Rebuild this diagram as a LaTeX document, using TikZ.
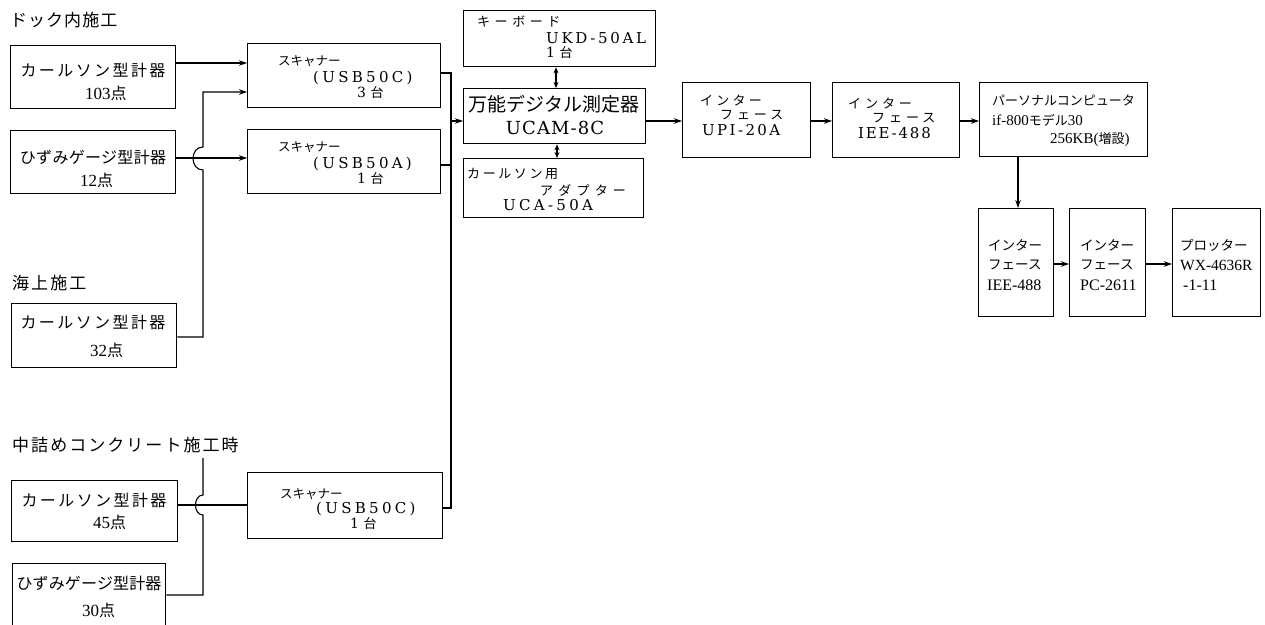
\documentclass[tikz,border=0pt]{standalone}
\usepackage{fontspec}
\setmainfont{Liberation Serif}
\newfontfamily\jp{Noto Sans CJK JP}
\newfontfamily\lat{DejaVu Serif}
\usetikzlibrary{arrows.meta}
\newcommand\jtxt[3]{{\jp\fontsize{#1}{#1}\selectfont\addfontfeature{LetterSpace=#2}#3}}
\newcommand\rtxt[3]{{\rmfamily\fontsize{#1}{#1}\selectfont\addfontfeature{LetterSpace=#2}#3}}
\newcommand\ltxt[3]{{\lat\fontsize{#1}{#1}\selectfont\addfontfeature{LetterSpace=#2}#3}}
\newcommand\scanlbl[1]{\ltxt{15}{22}{(#1)}}
\tikzset{
 box/.style={draw, line width=1.3pt, inner sep=0pt, anchor=north west},
 lb/.style={inner sep=0pt, anchor=west},
 lc/.style={inner sep=0pt, anchor=center},
 ln/.style={line width=1.1pt},
 arr/.style={ln, -{Stealth[length=8pt,width=5.5pt]}},
 darr/.style={ln, {Stealth[length=6pt,width=5pt]}-{Stealth[length=6pt,width=5pt]}},
}
\begin{document}
\begin{tikzpicture}[x=1pt,y=-1pt]
\useasboundingbox (0,0) rectangle (1265,624);
\clip (0,0) rectangle (1265,624);

% group titles
\node[lb] (t1) at (10,20) {\jtxt{17}{6}{ドック内施工}};
\node[lb] (t2) at (12,283) {\jtxt{17}{12}{海上施工}};
\node[lb] (t3) at (12,445) {\jtxt{17}{12}{中詰めコンクリート施工時}};

% gauge boxes
\node[box, minimum width=165pt, minimum height=63pt] (a1) at (10,45) {};
\node[lc] (a1t) at (93,70) {\jtxt{16}{15}{カールソン型計器}};
\node[lb] (a1n) at (85,93) {\rtxt{17}{0}{103}\jtxt{16}{0}{点}};

\node[box, minimum width=165pt, minimum height=63pt] (a2) at (10,130) {};
\node[lc] (a2t) at (93,157) {\jtxt{16}{2}{ひずみゲージ型計器}};
\node[lb] (a2n) at (80,180) {\rtxt{17}{0}{12}\jtxt{16}{0}{点}};

\node[box, minimum width=165pt, minimum height=64pt] (sea) at (11,303) {};
\node[lc] (seat) at (93,322) {\jtxt{16}{15}{カールソン型計器}};
\node[lb] (sean) at (90,350) {\rtxt{17}{0}{32}\jtxt{16}{0}{点}};

\node[box, minimum width=166pt, minimum height=61pt] (b1) at (11,480) {};
\node[lc] (b1t) at (94,500) {\jtxt{16}{15}{カールソン型計器}};
\node[lb] (b1n) at (93,522) {\rtxt{17}{0}{45}\jtxt{16}{0}{点}};

\node[box, minimum width=153pt, minimum height=70pt] (b2) at (12,563) {};
\node[lc] (b2t) at (89,583) {\jtxt{16}{1}{ひずみゲージ型計器}};
\node[lb] (b2n) at (82,610) {\rtxt{17}{0}{30}\jtxt{16}{0}{点}};

% scanners
\node[box, minimum width=193pt, minimum height=64pt] (s1) at (247,43) {};
\node[lb] (s1a) at (278,61) {\jtxt{12.5}{0}{スキャナー}};
\node[lb] (s1b) at (313,78) {\scanlbl{USB50C}};
\node[lb] (s1c) at (357,93) {\ltxt{14}{0}{3 }\jtxt{13}{0}{台}};

\node[box, minimum width=193pt, minimum height=64pt] (s2) at (247,129) {};
\node[lb] (s2a) at (278,147) {\jtxt{12.5}{0}{スキャナー}};
\node[lb] (s2b) at (313,164) {\scanlbl{USB50A}};
\node[lb] (s2c) at (357,179) {\ltxt{14}{0}{1 }\jtxt{13}{0}{台}};

\node[box, minimum width=195pt, minimum height=66pt] (s3) at (247,472) {};
\node[lb] (s3a) at (280,494) {\jtxt{12.5}{0}{スキャナー}};
\node[lb] (s3b) at (316,509) {\scanlbl{USB50C}};
\node[lb] (s3c) at (350,524) {\ltxt{14}{0}{1 }\jtxt{13}{0}{台}};

% measuring unit column
\node[box, minimum width=192pt, minimum height=56pt] (kb) at (463,10) {};
\node[lb] (kba) at (477,21) {\jtxt{13}{35}{キーボード}};
\node[lb] (kbb) at (546,38) {\ltxt{15}{18}{UKD-50AL}};
\node[lb] (kbc) at (546,53) {\ltxt{14}{0}{1 }\jtxt{13}{0}{台}};

\node[box, minimum width=182pt, minimum height=55pt] (ucam) at (463,88) {};
\node[lc] (ucama) at (554,104) {\jtxt{19}{0}{万能デジタル測定器}};
\node[lc] (ucamb) at (555,128) {\ltxt{18}{6}{UCAM-8C}};

\node[box, minimum width=180pt, minimum height=59pt] (ad) at (463,158) {};
\node[lb] (ada) at (467,174) {\jtxt{13}{20}{カールソン用}};
\node[lb] (adb) at (540,190) {\jtxt{13}{40}{アダプター}};
\node[lb] (adc) at (503,205) {\ltxt{15}{22}{UCA-50A}};

% interfaces and computer
\node[box, minimum width=128pt, minimum height=75pt] (upi) at (682,82) {};
\node[lb] (upia) at (700,100) {\jtxt{13}{25}{インター}};
\node[lb] (upib) at (720,115) {\jtxt{13}{30}{フェース}};
\node[lb] (upic) at (702,130) {\ltxt{15}{16}{UPI-20A}};

\node[box, minimum width=127pt, minimum height=75pt] (iee) at (832,82) {};
\node[lb] (ieea) at (848,103) {\jtxt{13}{30}{インター}};
\node[lb] (ieeb) at (872,118) {\jtxt{13}{30}{フェース}};
\node[lb] (ieec) at (858,133) {\ltxt{15}{12}{IEE-488}};

\node[box, minimum width=168pt, minimum height=74pt] (pc) at (979,82) {};
\node[lb] (pca) at (992,100) {\jtxt{13}{0}{パーソナルコンピュータ}};
\node[lb] (pcb) at (992,120) {\rtxt{15}{0}{if-800}\jtxt{13}{0}{モデル}\rtxt{15}{0}{30}};
\node[lb] (pcc) at (1050,140) {\rtxt{15}{0}{256KB(}\jtxt{13}{0}{増設}\rtxt{15}{0}{)}};

\node[box, minimum width=75pt, minimum height=108pt] (ie2) at (978,208) {};
\node[lb] (ie2a) at (988,245) {\jtxt{13.5}{0}{インター}};
\node[lb] (ie2b) at (988,265) {\jtxt{13.5}{0}{フェース}};
\node[lb] (ie2c) at (987,285) {\rtxt{16}{0}{IEE-488}};

\node[box, minimum width=76pt, minimum height=108pt] (pc26) at (1069,208) {};
\node[lb] (pc26a) at (1080,245) {\jtxt{13.5}{0}{インター}};
\node[lb] (pc26b) at (1080,265) {\jtxt{13.5}{0}{フェース}};
\node[lb] (pc26c) at (1080,285) {\rtxt{16}{0}{PC-2611}};

\node[box, minimum width=88pt, minimum height=108pt] (plt) at (1172,208) {};
\node[lb] (plta) at (1180,245) {\jtxt{13.5}{0}{プロッター}};
\node[lb] (pltb) at (1180,265) {\rtxt{15.5}{0}{WX-4636R}};
\node[lb] (pltc) at (1183,285) {\rtxt{16}{0}{-1-11}};

% connectors, left part
\draw[arr] (a1.east |- 0,63) -- (s1.west |- 0,63);
\draw[arr] (a2.east |- 0,158) -- (s2.west |- 0,158);
\coordinate (h1a) at (203,170);
\coordinate (h1b) at (203,147);
\draw[arr] (sea.east |- 0,337) -| (h1a) .. controls (189.7,170) and (189.7,147) .. (h1b) |- (s1.west |- 0,92);
\draw[ln] (b1.east |- 0,505) -- (s3.west |- 0,505);
\coordinate (h2a) at (203,515);
\coordinate (h2b) at (203,495);
\coordinate (fend) at (203,458);
\draw[ln] (b2.east |- 0,595) -| (h2a) .. controls (193,515) and (193,495) .. (h2b) -- (fend);

% bus
\coordinate (bt) at (451,73);
\coordinate (bb) at (451,508);
\draw[ln] (s1.east |- bt) -- (bt) -- (bb) -- (s3.east |- bb);
\draw[ln] (s2.east |- 0,165) -- (bt |- 0,165);
\draw[arr] (bt |- 0,121) -- (ucam.west |- 0,121);

% measuring unit links
\draw[darr] (kb.south -| 556,0) -- (ucam.north -| 556,0);
\draw[darr] (ucam.south -| 557,0) -- (ad.north -| 557,0);
\draw[arr] (ucam.east |- 0,121) -- (upi.west |- 0,121);
\draw[arr] (upi.east |- 0,121) -- (iee.west |- 0,121);
\draw[arr] (iee.east |- 0,121) -- (pc.west |- 0,121);
\draw[arr] (pc.south -| 1018,0) -- (ie2.north -| 1018,0);
\draw[arr] (ie2.east |- 0,264) -- (pc26.west |- 0,264);
\draw[arr] (pc26.east |- 0,264) -- (plt.west |- 0,264);
\end{tikzpicture}
\end{document}
